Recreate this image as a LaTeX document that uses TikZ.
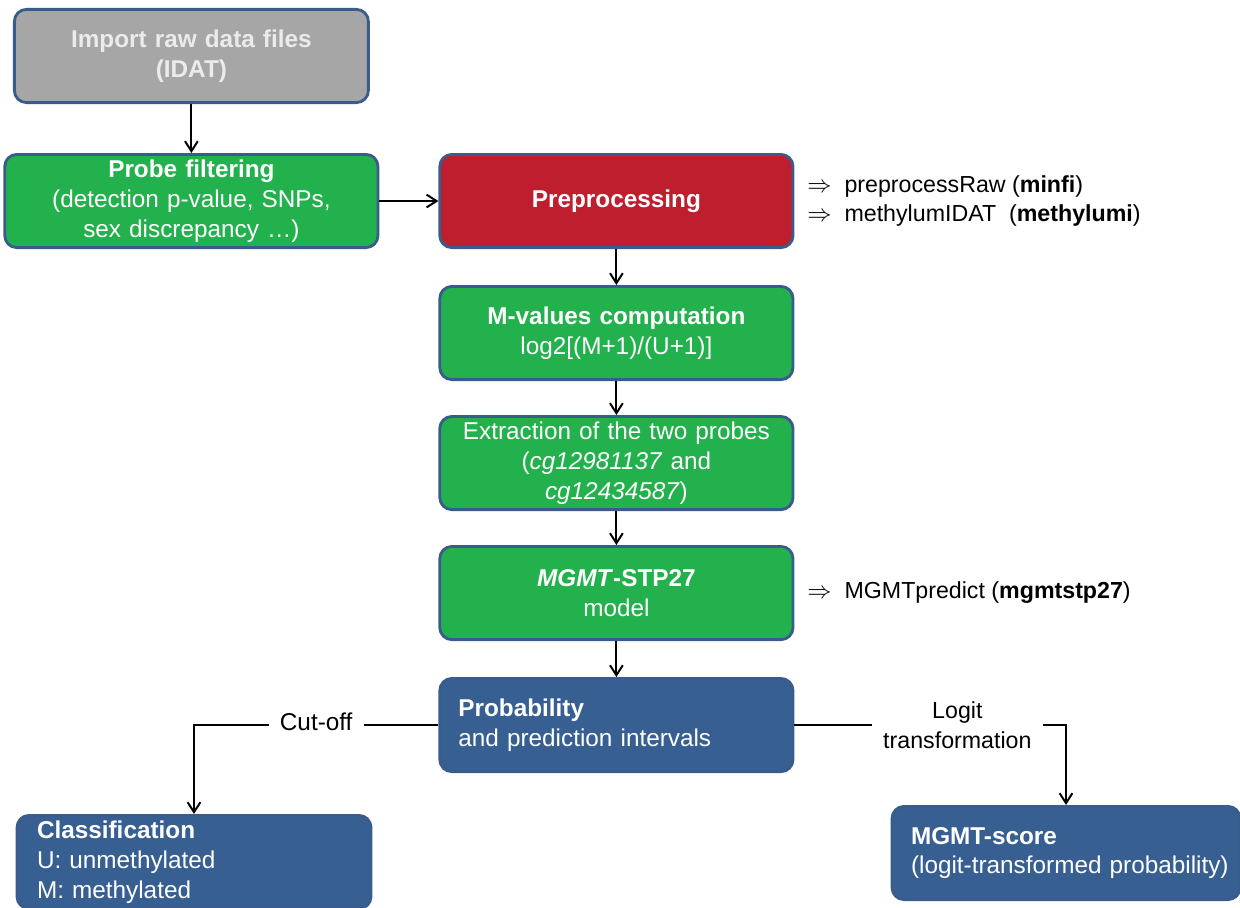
\documentclass[tikz,border=0pt]{standalone}
\usepackage{fontspec}
\setmainfont{Liberation Sans}
\usepackage{xcolor}
\usepackage{tikz}
\usetikzlibrary{shapes,arrows.meta,positioning}

\definecolor{boxgreen}{RGB}{34,177,76}
\definecolor{boxred}{RGB}{190,30,45}
\definecolor{boxblue}{RGB}{55,95,145}
\definecolor{boxgray}{RGB}{166,166,166}
\definecolor{edgeblue}{RGB}{58,92,140}

\begin{document}
\begin{tikzpicture}[
    node distance=0.95cm and 1.475cm,
    font=\fontsize{17.3}{21.3}\selectfont,
    box/.style={rectangle, draw=edgeblue, line width=2pt, rounded corners=0.3cm,
                text=white, text width=8.5cm, align=center,
                minimum width=8.83cm, minimum height=2.33cm, inner sep=2pt},
    greenbox/.style={box, fill=boxgreen},
    bluebox/.style={box, fill=boxblue, text width=7.9cm, align=left},
    note/.style={font=\fontsize{16.5}{21.3}\selectfont, align=left},
    arrow/.style={-{Straight Barb[length=2.5mm, width=3.2mm]}, line width=1.4pt}
]
\useasboundingbox (0,0) rectangle (31,-22.675);

\node[box, fill=boxred] (prep) at (15.41,-5.025) {\textbf{Preprocessing}};
\node[greenbox, left=of prep, minimum width=9.33cm, text width=9.1cm] (probe)
    {\textbf{Probe filtering}\\(detection p-value, SNPs,\\sex discrepancy \dots)};
\node[box, fill=boxgray, text=white!92!black, above=1.225cm of probe, minimum width=8.85cm] (import)
    {\textbf{Import raw data files}\\\textbf{(IDAT)}};
\node[greenbox, below=0.9cm of prep] (mval)
    {\textbf{M-values computation}\\log2[(M+1)/(U+1)]};
\node[greenbox, below=0.85cm of mval] (extract)
    {Extraction of the two probes\\(\textit{cg12981137} and\\\textit{cg12434587})};
\node[greenbox, below=0.85cm of extract] (model)
    {\textbf{\textit{MGMT}-STP27}\\model};
\node[bluebox, below=0.9cm of model] (prob)
    {\textbf{Probability}\\and prediction intervals};
\node[bluebox, minimum width=8.85cm, text width=7.85cm] (classif) at (4.85,-21.55)
    {\textbf{Classification}\\U: unmethylated\\M: methylated};
\node[bluebox, minimum width=8.7cm, text width=7.75cm] (score) at (26.65,-21.325)
    {\textbf{MGMT-score}\\\mbox{(logit-transformed probability)}};

% side notes
\node[note, right=0.2cm of prep, anchor=west] (prepnote)
    {$\Rightarrow$\ \ preprocessRaw (\textbf{minfi})\\$\Rightarrow$\ \ methylumIDAT\ \ (\textbf{methylumi})};
\node[note, right=0.2cm of model, anchor=west] (modelnote)
    {$\Rightarrow$\ \ MGMTpredict (\textbf{mgmtstp27})};

\draw[arrow] (import) -- (probe);
\draw[arrow] (probe) -- (prep);
\draw[arrow] (prep) -- (mval);
\draw[arrow] (mval) -- (extract);
\draw[arrow] (extract) -- (model);
\draw[arrow] (model) -- (prob);
\draw[arrow] (prob.west) -| node[pos=0.25, fill=white, inner xsep=8pt, yshift=2pt] {Cut-off} (classif.north);
\draw[arrow] (prob.east) -| node[note, pos=0.3, fill=white, align=center, inner xsep=8pt] {Logit\\transformation} (score.north);
\end{tikzpicture}
\end{document}
